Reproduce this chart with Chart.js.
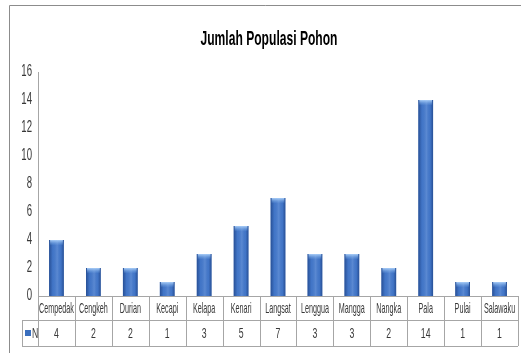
<!DOCTYPE html>
<html>
<head>
<meta charset="utf-8">
<script src="https://cdn.jsdelivr.net/npm/chart.js@4"></script>
<style>
  html, body { margin: 0; padding: 0; background: #fff; }
  #wrap { width: 521px; height: 353px; }
</style>
</head>
<body>
<div id="wrap"><canvas id="chart" width="521" height="353"></canvas></div>
<script>
const categories = ['Cempedak', 'Cengkeh', 'Durian', 'Kecapi', 'Kelapa', 'Kenari', 'Langsat', 'Lenggua', 'Mangga', 'Nangka', 'Pala', 'Pulai', 'Salawaku'];
const values = [4, 2, 2, 1, 3, 5, 7, 3, 3, 2, 14, 1, 1];
const seriesName = 'N';
const yTicks = [0, 2, 4, 6, 8, 10, 12, 14, 16];
const titleText = 'Jumlah Populasi Pohon';

const FONT = "'Liberation Sans', Arial, sans-serif";
const gridGray = '#a6a6a6';
const textGray = '#383838';

// the source chart uses a very condensed face, so squeeze text horizontally
function narrowText(ctx, text, x, y, sx, align) {
    ctx.save();
    ctx.translate(x, y);
    ctx.scale(sx, 1);
    ctx.textAlign = align || 'center';
    ctx.fillText(text, 0, 0);
    ctx.restore();
}

const tablePlugin = {
    id: 'dataTable',
    beforeDraw(chart) {
        const ctx = chart.ctx;
        ctx.save();
        ctx.strokeStyle = '#8c8c8c';
        ctx.lineWidth = 1;
        ctx.beginPath();
        ctx.moveTo(9.5, 353);
        ctx.lineTo(9.5, 5.5);
        ctx.lineTo(521, 5.5);
        ctx.stroke();

        // title
        ctx.fillStyle = '#000';
        ctx.font = 'bold 21px ' + FONT;
        ctx.textBaseline = 'alphabetic';
        const w = ctx.measureText(titleText).width;
        narrowText(ctx, titleText, 269, 45, 137 / w);
        ctx.restore();
    },
    afterDatasetsDraw(chart) {
        const ctx = chart.ctx;
        const meta = chart.getDatasetMeta(0);
        ctx.save();
        meta.data.forEach(bar => {
            const left = bar.x - bar.width / 2;
            const w = bar.width;
            const top = bar.y;
            const h = bar.base - bar.y;
            const g = ctx.createLinearGradient(left, 0, left + w, 0);
            g.addColorStop(0, 'rgba(15,45,105,0.55)');
            g.addColorStop(0.25, 'rgba(15,45,105,0.05)');
            g.addColorStop(0.55, 'rgba(255,255,255,0.12)');
            g.addColorStop(0.8, 'rgba(15,45,105,0.05)');
            g.addColorStop(1, 'rgba(15,45,105,0.55)');
            ctx.fillStyle = g;
            ctx.fillRect(left, top, w, h);
            const cap = ctx.createLinearGradient(0, top, 0, top + 5);
            cap.addColorStop(0, 'rgba(175,210,250,0.95)');
            cap.addColorStop(1, 'rgba(120,170,230,0.1)');
            ctx.fillStyle = cap;
            ctx.fillRect(left + 1, top, w - 2, Math.min(5, h));
        });
        ctx.restore();
    },
    afterDraw(chart) {
        const ctx = chart.ctx;
        const xs = chart.scales.x;
        const ys = chart.scales.y;
        const area = chart.chartArea;
        const row1 = area.bottom;
        const row2 = row1 + 24;
        const row3 = row2 + 26;
        const keyLeft = 22;
        const step = (area.right - area.left) / categories.length;
        ctx.save();
        ctx.strokeStyle = gridGray;
        ctx.lineWidth = 1;
        ctx.beginPath();
        ctx.moveTo(keyLeft, Math.round(row2) + 0.5);
        ctx.lineTo(area.right, Math.round(row2) + 0.5);
        ctx.moveTo(keyLeft, Math.round(row3) + 0.5);
        ctx.lineTo(area.right, Math.round(row3) + 0.5);
        ctx.moveTo(keyLeft + 0.5, Math.round(row2));
        ctx.lineTo(keyLeft + 0.5, Math.round(row3));
        ctx.moveTo(Math.round(area.left) + 0.5, row1);
        ctx.lineTo(Math.round(area.left) + 0.5, row3);
        categories.forEach((c, i) => {
            const x = Math.round(xs.getPixelForValue(i) + step / 2) + 0.5;
            ctx.moveTo(x, row1);
            ctx.lineTo(x, row3);
        });
        ctx.stroke();

        ctx.fillStyle = textGray;
        ctx.textBaseline = 'middle';
        // y tick labels
        ctx.font = '16px ' + FONT;
        yTicks.forEach(v => {
            narrowText(ctx, String(v), area.left - 6, ys.getPixelForValue(v), 0.6, 'right');
        });
        // table text
        ctx.font = '15px ' + FONT;
        categories.forEach((c, i) => {
            const cx = xs.getPixelForValue(i);
            narrowText(ctx, c, cx, (row1 + row2) / 2 + 1, 0.48);
            narrowText(ctx, String(values[i]), cx, (row2 + row3) / 2 + 1, 0.58);
        });
        // legend key
        ctx.fillStyle = '#3a6fbe';
        ctx.fillRect(keyLeft + 3, (row2 + row3) / 2 - 3, 6, 6);
        ctx.fillStyle = textGray;
        narrowText(ctx, seriesName, keyLeft + 10, (row2 + row3) / 2 + 1, 0.58, 'left');
        ctx.restore();
    }
};

new Chart(document.getElementById('chart'), {
    type: 'bar',
    data: {
        labels: categories,
        datasets: [{
            label: seriesName,
            data: values,
            backgroundColor: '#4479cc',
            borderWidth: 0,
            categoryPercentage: 1,
            barPercentage: 0.4
        }]
    },
    options: {
        responsive: false,
        animation: false,
        layout: { padding: { left: 10, right: 3, top: 72, bottom: 57 } },
        plugins: {
            legend: { display: false },
            tooltip: { enabled: false },
            title: { display: false }
        },
        scales: {
            x: {
                ticks: { display: false },
                grid: { display: false, drawTicks: false },
                border: { display: true, color: gridGray }
            },
            y: {
                min: 0,
                max: 16,
                afterBuildTicks(scale) {
                    scale.ticks = yTicks.map(v => ({ value: v }));
                },
                afterFit(scale) { scale.width = 28; },
                ticks: { display: false },
                grid: { display: false, drawTicks: false },
                border: { display: true, color: gridGray }
            }
        }
    },
    plugins: [tablePlugin]
});
</script>
</body>
</html>
